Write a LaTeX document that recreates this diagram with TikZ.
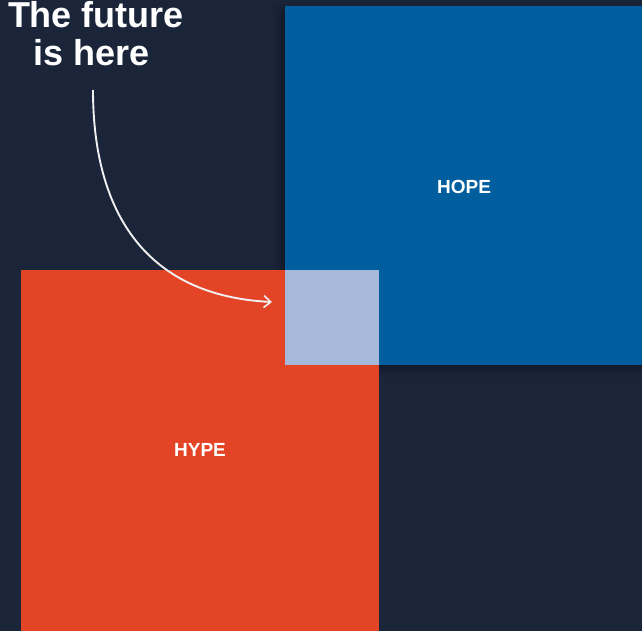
\documentclass[tikz,border=0pt]{standalone}
\usepackage{fontspec}
\setmainfont{Liberation Sans}
\usetikzlibrary{arrows.meta,shadows.blur}
\definecolor{bgnavy}{RGB}{27,37,58}
\definecolor{hopeblue}{RGB}{0,93,158}
\definecolor{hypered}{RGB}{228,68,38}
\definecolor{overlapblue}{RGB}{166,185,219}
\tikzset{
  title/.style={text=white,font=\fontsize{36}{38}\selectfont\bfseries,inner sep=0pt,anchor=base},
  label/.style={text=white,font=\fontsize{19}{21}\selectfont\bfseries,inner sep=0pt},
  pointer/.style={draw=white!94!black,line width=1.9pt,-{Straight Barb[length=7pt,width=12pt,line width=1.6pt]}}
}
\begin{document}
\begin{tikzpicture}[x=1pt,y=-1pt]
\useasboundingbox (0,0) rectangle (642,631);
\fill[bgnavy] (0,0) rectangle (642,631);
% squares
\path[fill=hopeblue,blur shadow={shadow xshift=-5pt,shadow yshift=-4pt,shadow blur radius=9pt,shadow opacity=35}] (285,6) rectangle (660,365);
\fill[hypered] (21,270) rectangle (379,631);
\fill[overlapblue] (285,270) rectangle (379,365);
% labels
\node[label] (hope) at (464,187) {HOPE};
\node[label] (hype) at (200,450) {HYPE};
\node[title] (line1) at (96,28) {The future};
\node[title] (line2) at (92,66) {is here};
\coordinate (start) at (93,90);
\coordinate (target) at (272,302);
\draw[pointer] (start) .. controls (93,215) and (148,296) .. (target);
\end{tikzpicture}
\end{document}
